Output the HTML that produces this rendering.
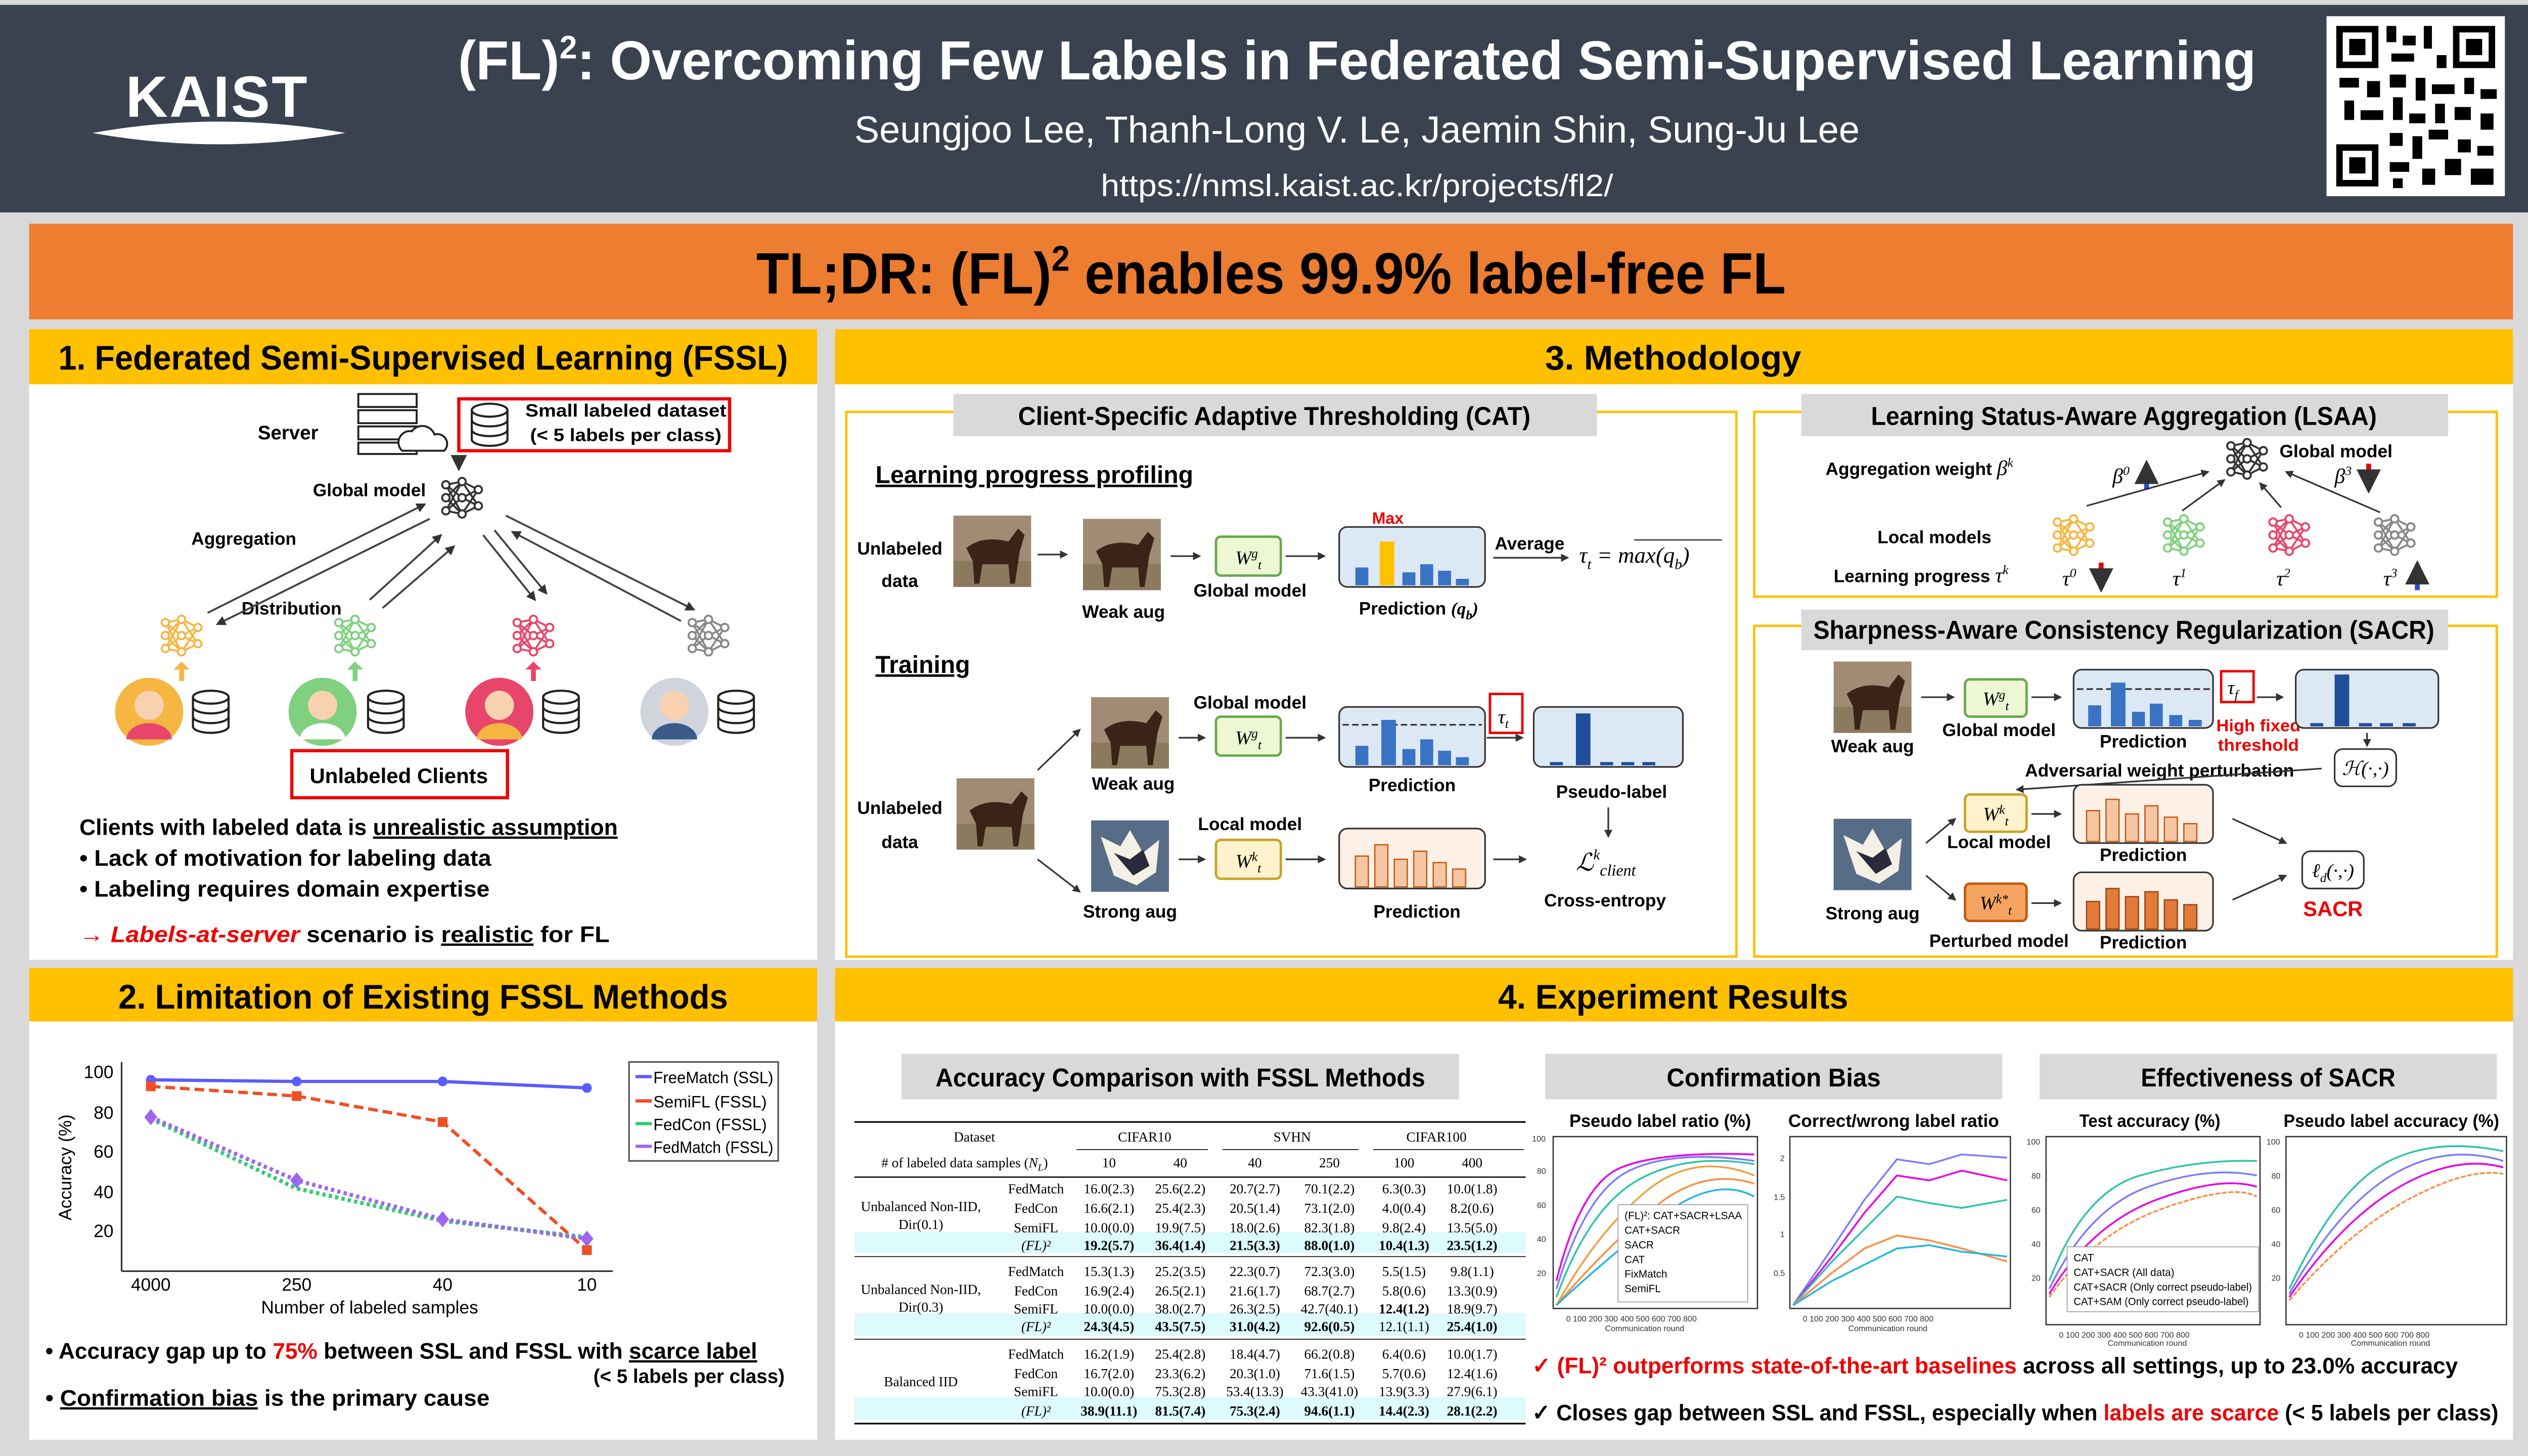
<!DOCTYPE html>
<html><head><meta charset="utf-8"><style>
html,body{margin:0;padding:0;background:#d9d9d9;}
svg{display:block}
text{font-family:"Liberation Sans",sans-serif;}
.b{font-weight:bold}
.s{font-family:"Liberation Serif",serif}
</style></head><body>
<svg width="5028" height="2880" viewBox="0 0 1568 898" preserveAspectRatio="none" xmlns="http://www.w3.org/2000/svg">
<defs>
<g id="net" fill="none" stroke-width="1.2">
<line x1="-10" y1="-8" x2="0" y2="-10"/><line x1="-10" y1="-8" x2="0" y2="0"/><line x1="-10" y1="0" x2="0" y2="-10"/><line x1="-10" y1="0" x2="0" y2="10"/><line x1="-10" y1="8" x2="0" y2="0"/><line x1="-10" y1="8" x2="0" y2="10"/><line x1="-10" y1="-8" x2="0" y2="10"/><line x1="-10" y1="8" x2="0" y2="-10"/>
<line x1="0" y1="-10" x2="10" y2="-5"/><line x1="0" y1="0" x2="10" y2="-5"/><line x1="0" y1="0" x2="10" y2="5"/><line x1="0" y1="10" x2="10" y2="5"/><line x1="0" y1="-10" x2="10" y2="5"/><line x1="0" y1="10" x2="10" y2="-5"/>
<circle cx="-10" cy="-8" r="2.3" fill="#fff"/><circle cx="-10" cy="0" r="2.3" fill="#fff"/><circle cx="-10" cy="8" r="2.3" fill="#fff"/><circle cx="0" cy="-10" r="2.3" fill="#fff"/><circle cx="0" cy="0" r="2.3" fill="#fff"/><circle cx="0" cy="10" r="2.3" fill="#fff"/><circle cx="10" cy="-5" r="2.3" fill="#fff"/><circle cx="10" cy="5" r="2.3" fill="#fff"/>
</g>
<g id="db" fill="#fff" stroke="#222" stroke-width="1.3">
<path d="M-11,-9 v18 a11,4 0 0 0 22,0 v-18"/><ellipse cx="0" cy="-9" rx="11" ry="4"/><path d="M-11,-3 a11,4 0 0 0 22,0 M-11,3 a11,4 0 0 0 22,0" fill="none"/>
</g>
<g id="horse"><rect x="0" y="0" width="48" height="44" fill="#a08c74"/><rect x="0" y="28" width="48" height="16" fill="#8b7a5e"/><path d="M8,20 q10,-8 26,-4 l6,-8 l4,4 l-3,10 l-3,20 h-3 l-1,-12 h-16 l-2,12 h-3 l-1,-14 z" fill="#3b2417"/></g>
<g id="horse2"><rect x="0" y="0" width="48" height="44" fill="#6a7686"/><rect x="0" y="0" width="48" height="44" fill="#3c5f8a" opacity="0.4"/><path d="M6,10 l12,6 l6,-10 l8,14 l10,-8 l-2,20 l-12,8 l-14,-6 z" fill="#f5f0e6"/><path d="M14,20 l10,4 l8,-6 l4,10 l-10,6 z" fill="#2a2a3a"/></g>
<marker id="ar" viewBox="0 0 6 6" refX="5" refY="3" markerWidth="5" markerHeight="5" orient="auto"><path d="M0,0 L6,3 L0,6 z" fill="#333"/></marker>
</defs>

<rect x="0" y="0" width="1568" height="898" fill="#d9d9d9"/>
<!-- header -->
<rect x="0" y="3" width="1568" height="128" fill="#3a4250"/>
<text x="134" y="72" fill="#fff" font-size="36" class="b" text-anchor="middle" letter-spacing="1">KAIST</text>
<path d="M57,82 Q135,68 213,82 Q135,96 57,82 z" fill="#fff"/>
<text x="837" y="49" fill="#fff" font-size="34" text-anchor="middle" class="b" textLength="1109" lengthAdjust="spacingAndGlyphs">(FL)<tspan font-size="20" dy="-13">2</tspan><tspan dy="13">: Overcoming Few Labels in Federated Semi-Supervised Learning</tspan></text>
<text x="837" y="88" fill="#fff" font-size="23" text-anchor="middle" textLength="620" lengthAdjust="spacingAndGlyphs">Seungjoo Lee, Thanh-Long V. Le, Jaemin Shin, Sung-Ju Lee</text>
<text x="837" y="121" fill="#fff" font-size="19" text-anchor="middle" textLength="316" lengthAdjust="spacingAndGlyphs">https://nmsl.kaist.ac.kr/projects/fl2/</text>
<rect x="1435" y="10" width="110" height="111" fill="#fff"/>
<g fill="#000">
<rect x="1441" y="16" width="26" height="26"/><rect x="1445" y="20" width="18" height="18" fill="#fff"/><rect x="1449" y="24" width="10" height="10"/>
<rect x="1513" y="16" width="26" height="26"/><rect x="1517" y="20" width="18" height="18" fill="#fff"/><rect x="1521" y="24" width="10" height="10"/>
<rect x="1441" y="89" width="26" height="26"/><rect x="1445" y="93" width="18" height="18" fill="#fff"/><rect x="1449" y="97" width="10" height="10"/>
<rect x="1472" y="16" width="6" height="10"/><rect x="1482" y="22" width="8" height="6"/><rect x="1495" y="16" width="5" height="14"/><rect x="1475" y="33" width="14" height="5"/><rect x="1503" y="34" width="6" height="8"/>
<rect x="1443" y="48" width="12" height="6"/><rect x="1460" y="50" width="8" height="10"/><rect x="1474" y="46" width="10" height="8"/><rect x="1490" y="48" width="6" height="14"/><rect x="1500" y="52" width="14" height="6"/><rect x="1520" y="48" width="6" height="10"/><rect x="1530" y="55" width="10" height="6"/>
<rect x="1446" y="62" width="6" height="12"/><rect x="1456" y="68" width="14" height="6"/><rect x="1476" y="60" width="6" height="14"/><rect x="1486" y="70" width="10" height="6"/><rect x="1502" y="64" width="6" height="12"/><rect x="1514" y="66" width="10" height="8"/><rect x="1530" y="70" width="8" height="10"/>
<rect x="1474" y="82" width="8" height="8"/><rect x="1488" y="84" width="6" height="14"/><rect x="1498" y="80" width="12" height="6"/><rect x="1516" y="86" width="8" height="8"/><rect x="1528" y="90" width="10" height="6"/><rect x="1474" y="100" width="12" height="6"/><rect x="1494" y="104" width="8" height="10"/><rect x="1508" y="98" width="10" height="10"/><rect x="1524" y="104" width="14" height="10"/><rect x="1476" y="110" width="6" height="6"/>
</g>
<!-- TLDR -->
<rect x="18" y="138" width="1532" height="59" fill="#ed7d31"/>
<text x="784" y="181" font-size="36" text-anchor="middle" class="b" textLength="635" lengthAdjust="spacingAndGlyphs">TL;DR: (FL)<tspan font-size="22" dy="-14">2</tspan><tspan dy="14"> enables 99.9% label-free FL</tspan></text>

<!-- Panels -->
<rect x="18" y="203" width="486" height="389" fill="#fff"/>
<rect x="18" y="203" width="486" height="34" fill="#ffc000"/>
<text x="261" y="228" font-size="21" class="b" text-anchor="middle" textLength="450" lengthAdjust="spacingAndGlyphs">1. Federated Semi-Supervised Learning (FSSL)</text>
<rect x="515" y="203" width="1035" height="389" fill="#fff"/>
<rect x="515" y="203" width="1035" height="34" fill="#ffc000"/>
<text x="1032" y="228" font-size="21" class="b" text-anchor="middle" textLength="158" lengthAdjust="spacingAndGlyphs">3. Methodology</text>
<rect x="18" y="597" width="486" height="291" fill="#fff"/>
<rect x="18" y="597" width="486" height="33" fill="#ffc000"/>
<text x="261" y="622" font-size="21" class="b" text-anchor="middle" textLength="376" lengthAdjust="spacingAndGlyphs">2. Limitation of Existing FSSL Methods</text>
<rect x="515" y="597" width="1035" height="291" fill="#fff"/>
<rect x="515" y="597" width="1035" height="33" fill="#ffc000"/>
<text x="1032" y="622" font-size="21" class="b" text-anchor="middle" textLength="216" lengthAdjust="spacingAndGlyphs">4. Experiment Results</text>

<!-- Section 1 -->
<text x="159" y="271" font-size="12" class="b">Server</text>
<g stroke="#222" stroke-width="1.2" fill="#fff"><rect x="221" y="243" width="36" height="8"/><rect x="221" y="253" width="36" height="8"/><rect x="221" y="263" width="36" height="8"/><rect x="221" y="273" width="36" height="7"/><path d="M248,278 a7,7 0 0 1 6,-12 a8,8 0 0 1 14,2 a6,6 0 0 1 6,10 z"/></g>
<rect x="283" y="246" width="167" height="32" fill="none" stroke="#e00" stroke-width="2"/>
<use href="#db" x="302" y="262"/>
<text x="386" y="257" font-size="11" class="b" text-anchor="middle" textLength="124" lengthAdjust="spacingAndGlyphs">Small labeled dataset</text>
<text x="386" y="272" font-size="11" class="b" text-anchor="middle" textLength="118" lengthAdjust="spacingAndGlyphs">(&lt; 5 labels per class)</text>
<path d="M283,281 v8" stroke="#333" stroke-width="2" marker-end="url(#ar)"/>
<text x="193" y="306" font-size="11" class="b">Global model</text>
<use href="#net" x="285" y="307" stroke="#333"/>
<text x="118" y="336" font-size="11" class="b">Aggregation</text>
<text x="149" y="379" font-size="11" class="b">Distribution</text>
<g stroke="#444" stroke-width="1.2" fill="none" marker-end="url(#ar)">
<path d="M128,378 L262,311"/><path d="M265,320 L134,385"/>
<path d="M228,370 L272,330"/><path d="M236,375 L280,337"/>
<path d="M298,330 L330,370"/><path d="M305,327 L337,366"/>
<path d="M312,318 L428,376"/><path d="M420,383 L316,328"/>
</g>
<use href="#net" x="112" y="392" stroke="#f5b642"/>
<use href="#net" x="219" y="392" stroke="#7fd07f"/>
<use href="#net" x="329" y="392" stroke="#e8456a"/>
<use href="#net" x="437" y="392" stroke="#888"/>
<path d="M112,420 v-9" stroke="#f5b642" stroke-width="3"/><path d="M107,413 l5,-5 l5,5 z" fill="#f5b642"/>
<path d="M219,420 v-9" stroke="#7fd07f" stroke-width="3"/><path d="M214,413 l5,-5 l5,5 z" fill="#7fd07f"/>
<path d="M329,420 v-9" stroke="#e8456a" stroke-width="3"/><path d="M324,413 l5,-5 l5,5 z" fill="#e8456a"/>
<g>
<circle cx="92" cy="439" r="21" fill="#f5b642"/><circle cx="92" cy="435" r="9" fill="#f8d2b0"/><path d="M78,456 a14,10 0 0 1 28,0" fill="#e8456a"/>
<circle cx="199" cy="439" r="21" fill="#7fd07f"/><circle cx="199" cy="435" r="9" fill="#f8d2b0"/><path d="M185,456 a14,10 0 0 1 28,0" fill="#fff"/>
<circle cx="308" cy="439" r="21" fill="#e8456a"/><circle cx="308" cy="435" r="9" fill="#f8d2b0"/><path d="M294,456 a14,10 0 0 1 28,0" fill="#f5b642"/>
<circle cx="416" cy="439" r="21" fill="#d0d4dc"/><circle cx="416" cy="435" r="9" fill="#f8d2b0"/><path d="M402,456 a14,10 0 0 1 28,0" fill="#3a5a8a"/>
</g>
<use href="#db" x="130" y="439"/><use href="#db" x="238" y="439"/><use href="#db" x="346" y="439"/><use href="#db" x="454" y="439"/>
<rect x="180" y="463" width="133" height="29" fill="none" stroke="#e00" stroke-width="2"/>
<text x="246" y="483" font-size="13" class="b" text-anchor="middle" textLength="110" lengthAdjust="spacingAndGlyphs">Unlabeled Clients</text>
<text x="49" y="515" font-size="14" class="b" textLength="332" lengthAdjust="spacingAndGlyphs">Clients with labeled data is <tspan text-decoration="underline">unrealistic assumption</tspan></text>
<text x="49" y="534" font-size="14" class="b" textLength="254" lengthAdjust="spacingAndGlyphs">•   Lack of motivation for labeling data</text>
<text x="49" y="553" font-size="14" class="b" textLength="253" lengthAdjust="spacingAndGlyphs">•   Labeling requires domain expertise</text>
<text x="49" y="581" font-size="14" class="b" textLength="327" lengthAdjust="spacingAndGlyphs"><tspan fill="#e00">→ </tspan><tspan fill="#e00" font-style="italic">Labels-at-server</tspan> scenario is <tspan text-decoration="underline">realistic</tspan> for FL</text>

<!-- Section 2 chart -->
<g font-size="11">
<line x1="75" y1="655" x2="75" y2="784" stroke="#333"/><line x1="75" y1="784" x2="378" y2="784" stroke="#333"/>
<text x="70" y="665" text-anchor="end">100</text><text x="70" y="690" text-anchor="end">80</text><text x="70" y="714" text-anchor="end">60</text><text x="70" y="739" text-anchor="end">40</text><text x="70" y="763" text-anchor="end">20</text>
<text x="93" y="796" text-anchor="middle">4000</text><text x="183" y="796" text-anchor="middle">250</text><text x="273" y="796" text-anchor="middle">40</text><text x="362" y="796" text-anchor="middle">10</text>
<text x="228" y="810" text-anchor="middle">Number of labeled samples</text>
<text transform="translate(44,720) rotate(-90)" text-anchor="middle">Accuracy (%)</text>
</g>
<polyline points="93,666 183,667 273,667 362,671" fill="none" stroke="#5b5bff" stroke-width="2"/>
<g fill="#5b5bff"><circle cx="93" cy="666" r="3"/><circle cx="183" cy="667" r="3"/><circle cx="273" cy="667" r="3"/><circle cx="362" cy="671" r="3"/></g>
<polyline points="93,670 183,676 273,692 362,771" fill="none" stroke="#f04e23" stroke-width="2" stroke-dasharray="6,3"/>
<g fill="#f04e23"><rect x="90" y="667" width="6" height="6"/><rect x="180" y="673" width="6" height="6"/><rect x="270" y="689" width="6" height="6"/><rect x="359" y="768" width="6" height="6"/></g>
<polyline points="93,690 183,733 273,753 362,763" fill="none" stroke="#2ecc71" stroke-width="2.5" stroke-dasharray="2,2"/>
<polyline points="93,689 183,728 273,752 362,764" fill="none" stroke="#a064f0" stroke-width="2.5" stroke-dasharray="2,2"/>
<g fill="#a064f0"><path d="M93,684 l4,5 l-4,5 l-4,-5z"/><path d="M183,723 l4,5 l-4,5 l-4,-5z"/><path d="M273,747 l4,5 l-4,5 l-4,-5z"/><path d="M362,759 l4,5 l-4,5 l-4,-5z"/></g>
<rect x="388" y="655" width="92" height="61" fill="#fff" stroke="#555"/>
<g font-size="10"><line x1="392" y1="664" x2="402" y2="664" stroke="#5b5bff" stroke-width="2"/><text x="403" y="668" textLength="74" lengthAdjust="spacingAndGlyphs">FreeMatch (SSL)</text>
<line x1="392" y1="679" x2="402" y2="679" stroke="#f04e23" stroke-width="2"/><text x="403" y="683" textLength="70" lengthAdjust="spacingAndGlyphs">SemiFL    (FSSL)</text>
<line x1="392" y1="693" x2="402" y2="693" stroke="#2ecc71" stroke-width="2"/><text x="403" y="697" textLength="70" lengthAdjust="spacingAndGlyphs">FedCon    (FSSL)</text>
<line x1="392" y1="707" x2="402" y2="707" stroke="#a064f0" stroke-width="2"/><text x="403" y="711" textLength="74" lengthAdjust="spacingAndGlyphs">FedMatch (FSSL)</text></g>
<text x="28" y="838" font-size="14" class="b" textLength="439" lengthAdjust="spacingAndGlyphs">•   Accuracy gap up to <tspan fill="#e00">75%</tspan> between SSL and FSSL with <tspan text-decoration="underline">scarce label</tspan></text>
<text x="484" y="853" font-size="12" class="b" text-anchor="end" textLength="118" lengthAdjust="spacingAndGlyphs">(&lt; 5 labels per class)</text>
<text x="28" y="867" font-size="14" class="b" textLength="274" lengthAdjust="spacingAndGlyphs">•   <tspan text-decoration="underline">Confirmation bias</tspan> is the primary cause</text>

<!-- Section 3: CAT -->
<rect x="522" y="254" width="549" height="336" fill="none" stroke="#ffc000" stroke-width="1.5"/>
<rect x="588" y="243" width="397" height="26" fill="#d9d9d9"/>
<text x="786" y="262" font-size="16" class="b" text-anchor="middle" textLength="316" lengthAdjust="spacingAndGlyphs">Client-Specific Adaptive Thresholding (CAT)</text>
<text x="540" y="298" font-size="15" class="b" text-decoration="underline" textLength="196" lengthAdjust="spacingAndGlyphs">Learning progress profiling</text>
<text x="555" y="342" font-size="11" class="b" text-anchor="middle">Unlabeled</text><text x="555" y="362" font-size="11" class="b" text-anchor="middle">data</text>
<use href="#horse" x="588" y="318"/>
<path d="M640,342 h18" stroke="#333" marker-end="url(#ar)"/>
<use href="#horse" x="668" y="320"/>
<text x="693" y="381" font-size="11" class="b" text-anchor="middle">Weak aug</text>
<path d="M722,343 h18" stroke="#333" marker-end="url(#ar)"/>
<rect x="750" y="331" width="40" height="24" rx="3" fill="#eef7d4" stroke="#6aa84f" stroke-width="1.5"/>
<text x="770" y="348" font-size="12" class="s" font-style="italic" text-anchor="middle">W<tspan font-size="8" dy="-4">g</tspan><tspan font-size="8" dy="7">t</tspan></text>
<text x="771" y="368" font-size="11" class="b" text-anchor="middle">Global model</text>
<path d="M793,343 h24" stroke="#333" marker-end="url(#ar)"/>
<rect x="826" y="325" width="90" height="37" rx="5" fill="#dde8f5" stroke="#333"/>
<g fill="#3a72c4"><rect x="836" y="350" width="8" height="11"/><rect x="865" y="353" width="8" height="8"/><rect x="876" y="348" width="8" height="13"/><rect x="887" y="352" width="8" height="9"/><rect x="898" y="357" width="8" height="4"/></g>
<rect x="851" y="334" width="9" height="27" fill="#ffc000"/>
<text x="856" y="323" font-size="10" class="b" fill="#e00" text-anchor="middle">Max</text>
<text x="875" y="379" font-size="11" class="b" text-anchor="middle">Prediction <tspan class="s" font-style="italic">(q<tspan font-size="8" dy="3">b</tspan><tspan dy="-3">)</tspan></tspan></text>
<text x="922" y="339" font-size="11" class="b">Average</text>
<path d="M921,344 h46" stroke="#333" marker-end="url(#ar)"/>
<text x="974" y="347" font-size="14" class="s" font-style="italic">τ<tspan font-size="9" dy="4">t</tspan><tspan dy="-4"> = max(q</tspan><tspan font-size="9" dy="4">b</tspan><tspan dy="-4">)</tspan></text>
<line x1="1008" y1="333" x2="1062" y2="333" stroke="#333" stroke-width="0.8"/>
<text x="540" y="415" font-size="15" class="b" text-decoration="underline">Training</text>
<text x="555" y="502" font-size="11" class="b" text-anchor="middle">Unlabeled</text><text x="555" y="523" font-size="11" class="b" text-anchor="middle">data</text>
<use href="#horse" x="590" y="480"/>
<path d="M640,475 L666,450" stroke="#333" marker-end="url(#ar)"/>
<path d="M640,530 L666,550" stroke="#333" marker-end="url(#ar)"/>
<use href="#horse" x="673" y="430"/>
<text x="699" y="487" font-size="11" class="b" text-anchor="middle">Weak aug</text>
<use href="#horse2" x="673" y="506"/>
<text x="697" y="566" font-size="11" class="b" text-anchor="middle">Strong aug</text>
<text x="771" y="437" font-size="11" class="b" text-anchor="middle">Global model</text>
<path d="M727,455 h16" stroke="#333" marker-end="url(#ar)"/>
<rect x="750" y="442" width="40" height="24" rx="3" fill="#eef7d4" stroke="#6aa84f" stroke-width="1.5"/>
<text x="770" y="459" font-size="12" class="s" font-style="italic" text-anchor="middle">W<tspan font-size="8" dy="-4">g</tspan><tspan font-size="8" dy="7">t</tspan></text>
<path d="M793,455 h24" stroke="#333" marker-end="url(#ar)"/>
<rect x="826" y="436" width="90" height="37" rx="5" fill="#dde8f5" stroke="#333"/>
<line x1="828" y1="447" x2="914" y2="447" stroke="#333" stroke-dasharray="4,2"/>
<g fill="#3a72c4"><rect x="836" y="460" width="8" height="12"/><rect x="852" y="444" width="9" height="28"/><rect x="865" y="462" width="8" height="10"/><rect x="876" y="456" width="8" height="16"/><rect x="887" y="463" width="8" height="9"/><rect x="898" y="467" width="8" height="5"/></g>
<text x="871" y="488" font-size="11" class="b" text-anchor="middle">Prediction</text>
<rect x="919" y="428" width="20" height="24" fill="none" stroke="#e00" stroke-width="1.5"/>
<text x="924" y="446" font-size="12" class="s" font-style="italic">τ<tspan font-size="8" dy="3">t</tspan></text>
<path d="M917,455 h22" stroke="#333" marker-end="url(#ar)"/>
<rect x="946" y="436" width="92" height="37" rx="5" fill="#dde8f5" stroke="#333"/>
<g fill="#1f4e9a"><rect x="972" y="440" width="9" height="32"/><rect x="956" y="470" width="8" height="2"/><rect x="987" y="470" width="8" height="2"/><rect x="1000" y="470" width="8" height="2"/><rect x="1013" y="470" width="8" height="2"/></g>
<text x="994" y="492" font-size="11" class="b" text-anchor="middle">Pseudo-label</text>
<text x="771" y="512" font-size="11" class="b" text-anchor="middle">Local model</text>
<path d="M727,530 h16" stroke="#333" marker-end="url(#ar)"/>
<rect x="750" y="518" width="40" height="24" rx="3" fill="#fff2cc" stroke="#c9a227" stroke-width="1.5"/>
<text x="770" y="535" font-size="12" class="s" font-style="italic" text-anchor="middle">W<tspan font-size="8" dy="-4">k</tspan><tspan font-size="8" dy="7">t</tspan></text>
<path d="M793,530 h24" stroke="#333" marker-end="url(#ar)"/>
<rect x="826" y="511" width="90" height="37" rx="5" fill="#fdf0e6" stroke="#333"/>
<g fill="#f4c6a4" stroke="#c55a11" stroke-width="0.8"><rect x="836" y="528" width="8" height="19"/><rect x="848" y="521" width="8" height="26"/><rect x="860" y="530" width="8" height="17"/><rect x="872" y="525" width="8" height="22"/><rect x="884" y="532" width="8" height="15"/><rect x="896" y="536" width="8" height="11"/></g>
<text x="874" y="566" font-size="11" class="b" text-anchor="middle">Prediction</text>
<path d="M921,530 h20" stroke="#333" marker-end="url(#ar)"/>
<path d="M992,498 v18" stroke="#333" marker-end="url(#ar)"/>
<text x="972" y="537" font-size="15" class="s" font-style="italic">ℒ<tspan font-size="9" dy="-7">k</tspan><tspan font-size="10" dy="10">client</tspan></text>
<text x="990" y="559" font-size="11" class="b" text-anchor="middle">Cross-entropy</text>

<!-- LSAA -->
<rect x="1082" y="254" width="458" height="114" fill="none" stroke="#ffc000" stroke-width="1.5"/>
<rect x="1111" y="243" width="399" height="26" fill="#d9d9d9"/>
<text x="1310" y="262" font-size="16" class="b" text-anchor="middle" textLength="312" lengthAdjust="spacingAndGlyphs">Learning Status-Aware Aggregation (LSAA)</text>
<text x="1126" y="293" font-size="11" class="b">Aggregation weight <tspan class="s" font-style="italic" font-weight="normal" font-size="13">β<tspan font-size="8" dy="-5">k</tspan></tspan></text>
<use href="#net" x="1386" y="283" stroke="#333"/>
<text x="1406" y="282" font-size="11" class="b">Global model</text>
<text x="1303" y="298" font-size="13" class="s" font-style="italic">β<tspan font-size="8" dy="-5">0</tspan></text>
<path d="M1324,302 v-16" stroke="#1f4ed8" stroke-width="3" marker-end="url(#ar)"/>
<text x="1440" y="298" font-size="13" class="s" font-style="italic">β<tspan font-size="8" dy="-5">3</tspan></text>
<path d="M1461,286 v16" stroke="#e00" stroke-width="3" marker-end="url(#ar)"/>
<g stroke="#333" fill="none" marker-end="url(#ar)"><path d="M1287,312 L1362,291"/><path d="M1346,315 L1372,296"/><path d="M1407,313 L1394,298"/><path d="M1468,316 L1410,291"/></g>
<text x="1158" y="335" font-size="11" class="b">Local models</text>
<text x="1131" y="359" font-size="11" class="b">Learning progress <tspan class="s" font-style="italic" font-weight="normal" font-size="13">τ<tspan font-size="8" dy="-5">k</tspan></tspan></text>
<use href="#net" x="1279" y="330" stroke="#f5b642"/>
<use href="#net" x="1347" y="330" stroke="#7fd07f"/>
<use href="#net" x="1412" y="330" stroke="#e8456a"/>
<use href="#net" x="1477" y="330" stroke="#888"/>
<text x="1272" y="361" font-size="13" class="s" font-style="italic">τ<tspan font-size="8" dy="-5">0</tspan></text>
<path d="M1296,347 v16" stroke="#e00" stroke-width="3" marker-end="url(#ar)"/>
<text x="1340" y="361" font-size="13" class="s" font-style="italic">τ<tspan font-size="8" dy="-5">1</tspan></text>
<text x="1404" y="361" font-size="13" class="s" font-style="italic">τ<tspan font-size="8" dy="-5">2</tspan></text>
<text x="1470" y="361" font-size="13" class="s" font-style="italic">τ<tspan font-size="8" dy="-5">3</tspan></text>
<path d="M1491,364 v-16" stroke="#1f4ed8" stroke-width="3" marker-end="url(#ar)"/>

<!-- SACR -->
<rect x="1082" y="386" width="458" height="204" fill="none" stroke="#ffc000" stroke-width="1.5"/>
<rect x="1111" y="376" width="399" height="25" fill="#d9d9d9"/>
<text x="1310" y="394" font-size="16" class="b" text-anchor="middle" textLength="383" lengthAdjust="spacingAndGlyphs">Sharpness-Aware Consistency Regularization (SACR)</text>
<use href="#horse" x="1131" y="408"/>
<text x="1155" y="464" font-size="11" class="b" text-anchor="middle">Weak aug</text>
<use href="#horse2" x="1131" y="505"/>
<text x="1155" y="567" font-size="11" class="b" text-anchor="middle">Strong aug</text>
<path d="M1185,430 h20" stroke="#333" marker-end="url(#ar)"/>
<rect x="1212" y="419" width="38" height="23" rx="3" fill="#eef7d4" stroke="#6aa84f" stroke-width="1.5"/>
<text x="1231" y="435" font-size="12" class="s" font-style="italic" text-anchor="middle">W<tspan font-size="8" dy="-4">g</tspan><tspan font-size="8" dy="7">t</tspan></text>
<text x="1233" y="454" font-size="11" class="b" text-anchor="middle" textLength="70" lengthAdjust="spacingAndGlyphs">Global model</text>
<path d="M1253,430 h18" stroke="#333" marker-end="url(#ar)"/>
<rect x="1279" y="413" width="86" height="36" rx="5" fill="#dde8f5" stroke="#333"/>
<line x1="1281" y1="425" x2="1363" y2="425" stroke="#333" stroke-dasharray="4,2"/>
<g fill="#3a72c4"><rect x="1288" y="435" width="8" height="13"/><rect x="1302" y="421" width="9" height="27"/><rect x="1315" y="439" width="8" height="9"/><rect x="1326" y="434" width="8" height="14"/><rect x="1338" y="441" width="8" height="7"/><rect x="1350" y="444" width="8" height="4"/></g>
<text x="1322" y="461" font-size="11" class="b" text-anchor="middle">Prediction</text>
<rect x="1370" y="414" width="20" height="19" fill="none" stroke="#e00" stroke-width="1.5"/>
<text x="1374" y="428" font-size="12" class="s" font-style="italic">τ<tspan font-size="8" dy="3">f</tspan></text>
<text x="1393" y="451" font-size="10.5" class="b" fill="#e00" text-anchor="middle" textLength="52" lengthAdjust="spacingAndGlyphs">High fixed</text>
<text x="1393" y="463" font-size="10.5" class="b" fill="#e00" text-anchor="middle" textLength="50" lengthAdjust="spacingAndGlyphs">threshold</text>
<path d="M1392,430 h16" stroke="#333" marker-end="url(#ar)"/>
<rect x="1416" y="413" width="88" height="36" rx="5" fill="#dde8f5" stroke="#333"/>
<g fill="#1f4e9a"><rect x="1440" y="416" width="9" height="32"/><rect x="1425" y="446" width="8" height="2"/><rect x="1455" y="446" width="8" height="2"/><rect x="1468" y="446" width="8" height="2"/><rect x="1482" y="446" width="8" height="2"/></g>
<path d="M1460,452 v8" stroke="#333" marker-end="url(#ar)"/>
<rect x="1440" y="462" width="38" height="23" rx="5" fill="#fff" stroke="#333"/>
<text x="1459" y="478" font-size="12" class="s" font-style="italic" text-anchor="middle">ℋ(·,·)</text>
<text x="1332" y="479" font-size="11" class="b" text-anchor="middle" textLength="166" lengthAdjust="spacingAndGlyphs">Adversarial weight perturbation</text>
<path d="M1432,474 L1244,487" stroke="#333" marker-end="url(#ar)"/>
<path d="M1188,520 L1206,505" stroke="#333" marker-end="url(#ar)"/>
<path d="M1188,540 L1206,555" stroke="#333" marker-end="url(#ar)"/>
<rect x="1212" y="490" width="38" height="23" rx="3" fill="#fff2cc" stroke="#c9a227" stroke-width="1.5"/>
<text x="1231" y="506" font-size="12" class="s" font-style="italic" text-anchor="middle">W<tspan font-size="8" dy="-4">k</tspan><tspan font-size="8" dy="7">t</tspan></text>
<text x="1233" y="523" font-size="11" class="b" text-anchor="middle" textLength="64" lengthAdjust="spacingAndGlyphs">Local model</text>
<rect x="1212" y="545" width="38" height="23" rx="3" fill="#f4a460" stroke="#c55a11" stroke-width="1.5"/>
<text x="1231" y="561" font-size="12" class="s" font-style="italic" text-anchor="middle">W<tspan font-size="8" dy="-4">k*</tspan><tspan font-size="8" dy="7">t</tspan></text>
<text x="1233" y="584" font-size="11" class="b" text-anchor="middle" textLength="86" lengthAdjust="spacingAndGlyphs">Perturbed model</text>
<path d="M1253,502 h18" stroke="#333" marker-end="url(#ar)"/>
<path d="M1253,557 h18" stroke="#333" marker-end="url(#ar)"/>
<rect x="1279" y="484" width="86" height="36" rx="5" fill="#fdf0e6" stroke="#333"/>
<g fill="#f4c6a4" stroke="#c55a11" stroke-width="0.8"><rect x="1287" y="500" width="8" height="19"/><rect x="1299" y="493" width="8" height="26"/><rect x="1311" y="502" width="8" height="17"/><rect x="1323" y="497" width="8" height="22"/><rect x="1335" y="504" width="8" height="15"/><rect x="1347" y="508" width="8" height="11"/></g>
<text x="1322" y="531" font-size="11" class="b" text-anchor="middle">Prediction</text>
<rect x="1279" y="538" width="86" height="36" rx="5" fill="#fdf0e6" stroke="#333"/>
<g fill="#e07b39" stroke="#a0450f" stroke-width="0.8"><rect x="1287" y="556" width="8" height="17"/><rect x="1299" y="548" width="8" height="25"/><rect x="1311" y="553" width="8" height="20"/><rect x="1323" y="550" width="8" height="23"/><rect x="1335" y="555" width="8" height="18"/><rect x="1347" y="558" width="8" height="15"/></g>
<text x="1322" y="585" font-size="11" class="b" text-anchor="middle">Prediction</text>
<path d="M1377,505 L1410,520" stroke="#333" marker-end="url(#ar)"/>
<path d="M1377,555 L1410,540" stroke="#333" marker-end="url(#ar)"/>
<rect x="1420" y="525" width="38" height="23" rx="5" fill="#fff" stroke="#333"/>
<text x="1439" y="541" font-size="12" class="s" font-style="italic" text-anchor="middle">ℓ<tspan font-size="8" dy="3">d</tspan><tspan dy="-3">(·,·)</tspan></text>
<text x="1439" y="565" font-size="13" class="b" fill="#e00" text-anchor="middle">SACR</text>

<!-- Section 4 -->
<rect x="556" y="650" width="344" height="28" fill="#d9d9d9"/>
<text x="728" y="670" font-size="16" class="b" text-anchor="middle" textLength="302" lengthAdjust="spacingAndGlyphs">Accuracy Comparison with FSSL Methods</text>
<rect x="953" y="650" width="282" height="28" fill="#d9d9d9"/>
<text x="1094" y="670" font-size="16" class="b" text-anchor="middle" textLength="132" lengthAdjust="spacingAndGlyphs">Confirmation Bias</text>
<rect x="1258" y="650" width="282" height="28" fill="#d9d9d9"/>
<text x="1399" y="670" font-size="16" class="b" text-anchor="middle" textLength="157" lengthAdjust="spacingAndGlyphs">Effectiveness of SACR</text>

<!-- table -->
<g font-size="8.5" style="font-family:'Liberation Serif',serif">
<line x1="527" y1="692" x2="941" y2="692" stroke="#000" stroke-width="1"/>
<text x="601" y="704" text-anchor="middle" style="font-family:'Liberation Serif',serif">Dataset</text>
<text x="706" y="704" text-anchor="middle" style="font-family:'Liberation Serif',serif">CIFAR10</text>
<text x="797" y="704" text-anchor="middle" style="font-family:'Liberation Serif',serif">SVHN</text>
<text x="886" y="704" text-anchor="middle" style="font-family:'Liberation Serif',serif">CIFAR100</text>
<line x1="664" y1="709" x2="745" y2="709" stroke="#000" stroke-width="0.5"/><line x1="754" y1="709" x2="838" y2="709" stroke="#000" stroke-width="0.5"/><line x1="847" y1="709" x2="940" y2="709" stroke="#000" stroke-width="0.5"/>
<text x="595" y="720" text-anchor="middle" style="font-family:'Liberation Serif',serif"># of labeled data samples (<tspan font-style="italic">N<tspan font-size="6" dy="2">L</tspan></tspan><tspan dy="-2">)</tspan></text>
<text x="684" y="720" text-anchor="middle" style="font-family:'Liberation Serif',serif">10</text><text x="728" y="720" text-anchor="middle" style="font-family:'Liberation Serif',serif">40</text><text x="774" y="720" text-anchor="middle" style="font-family:'Liberation Serif',serif">40</text><text x="820" y="720" text-anchor="middle" style="font-family:'Liberation Serif',serif">250</text><text x="866" y="720" text-anchor="middle" style="font-family:'Liberation Serif',serif">100</text><text x="908" y="720" text-anchor="middle" style="font-family:'Liberation Serif',serif">400</text>
<line x1="527" y1="726" x2="941" y2="726" stroke="#000" stroke-width="0.8"/>
<rect x="527" y="760" width="414" height="13" fill="#ddfafc"/>
<rect x="527" y="810" width="414" height="14" fill="#ddfafc"/>
<rect x="527" y="862" width="414" height="14" fill="#ddfafc"/>
<line x1="527" y1="775" x2="941" y2="775" stroke="#000" stroke-width="0.5"/>
<line x1="527" y1="826" x2="941" y2="826" stroke="#000" stroke-width="0.5"/>
<line x1="527" y1="878" x2="941" y2="878" stroke="#000" stroke-width="1"/>
</g>
<g font-size="8.5">
<text x="568" y="747" text-anchor="middle" style="font-family:'Liberation Serif',serif">Unbalanced Non-IID,</text><text x="568" y="758" text-anchor="middle" style="font-family:'Liberation Serif',serif">Dir(0.1)</text>
<text x="568" y="798" text-anchor="middle" style="font-family:'Liberation Serif',serif">Unbalanced Non-IID,</text><text x="568" y="809" text-anchor="middle" style="font-family:'Liberation Serif',serif">Dir(0.3)</text>
<text x="568" y="855" text-anchor="middle" style="font-family:'Liberation Serif',serif">Balanced IID</text>
</g>
<g font-size="8.5" text-anchor="middle">
<text x="639" y="736" style="font-family:'Liberation Serif',serif">FedMatch</text><text x="684" y="736" style="font-family:'Liberation Serif',serif">16.0(2.3)</text><text x="728" y="736" style="font-family:'Liberation Serif',serif">25.6(2.2)</text><text x="774" y="736" style="font-family:'Liberation Serif',serif">20.7(2.7)</text><text x="820" y="736" style="font-family:'Liberation Serif',serif">70.1(2.2)</text><text x="866" y="736" style="font-family:'Liberation Serif',serif">6.3(0.3)</text><text x="908" y="736" style="font-family:'Liberation Serif',serif">10.0(1.8)</text>
<text x="639" y="748" style="font-family:'Liberation Serif',serif">FedCon</text><text x="684" y="748" style="font-family:'Liberation Serif',serif">16.6(2.1)</text><text x="728" y="748" style="font-family:'Liberation Serif',serif">25.4(2.3)</text><text x="774" y="748" style="font-family:'Liberation Serif',serif">20.5(1.4)</text><text x="820" y="748" style="font-family:'Liberation Serif',serif">73.1(2.0)</text><text x="866" y="748" style="font-family:'Liberation Serif',serif">4.0(0.4)</text><text x="908" y="748" style="font-family:'Liberation Serif',serif">8.2(0.6)</text>
<text x="639" y="760" style="font-family:'Liberation Serif',serif">SemiFL</text><text x="684" y="760" style="font-family:'Liberation Serif',serif">10.0(0.0)</text><text x="728" y="760" style="font-family:'Liberation Serif',serif">19.9(7.5)</text><text x="774" y="760" style="font-family:'Liberation Serif',serif">18.0(2.6)</text><text x="820" y="760" style="font-family:'Liberation Serif',serif">82.3(1.8)</text><text x="866" y="760" style="font-family:'Liberation Serif',serif">9.8(2.4)</text><text x="908" y="760" style="font-family:'Liberation Serif',serif">13.5(5.0)</text>
<g font-weight="bold"><text x="639" y="771" font-style="italic" font-weight="normal" style="font-family:'Liberation Serif',serif">(FL)²</text><text x="684" y="771" style="font-family:'Liberation Serif',serif">19.2(5.7)</text><text x="728" y="771" style="font-family:'Liberation Serif',serif">36.4(1.4)</text><text x="774" y="771" style="font-family:'Liberation Serif',serif">21.5(3.3)</text><text x="820" y="771" style="font-family:'Liberation Serif',serif">88.0(1.0)</text><text x="866" y="771" style="font-family:'Liberation Serif',serif">10.4(1.3)</text><text x="908" y="771" style="font-family:'Liberation Serif',serif">23.5(1.2)</text></g>
<text x="639" y="787" style="font-family:'Liberation Serif',serif">FedMatch</text><text x="684" y="787" style="font-family:'Liberation Serif',serif">15.3(1.3)</text><text x="728" y="787" style="font-family:'Liberation Serif',serif">25.2(3.5)</text><text x="774" y="787" style="font-family:'Liberation Serif',serif">22.3(0.7)</text><text x="820" y="787" style="font-family:'Liberation Serif',serif">72.3(3.0)</text><text x="866" y="787" style="font-family:'Liberation Serif',serif">5.5(1.5)</text><text x="908" y="787" style="font-family:'Liberation Serif',serif">9.8(1.1)</text>
<text x="639" y="799" style="font-family:'Liberation Serif',serif">FedCon</text><text x="684" y="799" style="font-family:'Liberation Serif',serif">16.9(2.4)</text><text x="728" y="799" style="font-family:'Liberation Serif',serif">26.5(2.1)</text><text x="774" y="799" style="font-family:'Liberation Serif',serif">21.6(1.7)</text><text x="820" y="799" style="font-family:'Liberation Serif',serif">68.7(2.7)</text><text x="866" y="799" style="font-family:'Liberation Serif',serif">5.8(0.6)</text><text x="908" y="799" style="font-family:'Liberation Serif',serif">13.3(0.9)</text>
<text x="639" y="810" style="font-family:'Liberation Serif',serif">SemiFL</text><text x="684" y="810" style="font-family:'Liberation Serif',serif">10.0(0.0)</text><text x="728" y="810" style="font-family:'Liberation Serif',serif">38.0(2.7)</text><text x="774" y="810" style="font-family:'Liberation Serif',serif">26.3(2.5)</text><text x="820" y="810" style="font-family:'Liberation Serif',serif">42.7(40.1)</text><text x="866" y="810" font-weight="bold" style="font-family:'Liberation Serif',serif">12.4(1.2)</text><text x="908" y="810" style="font-family:'Liberation Serif',serif">18.9(9.7)</text>
<g font-weight="bold"><text x="639" y="821" font-style="italic" font-weight="normal" style="font-family:'Liberation Serif',serif">(FL)²</text><text x="684" y="821" style="font-family:'Liberation Serif',serif">24.3(4.5)</text><text x="728" y="821" style="font-family:'Liberation Serif',serif">43.5(7.5)</text><text x="774" y="821" style="font-family:'Liberation Serif',serif">31.0(4.2)</text><text x="820" y="821" style="font-family:'Liberation Serif',serif">92.6(0.5)</text><text x="866" y="821" font-weight="normal" style="font-family:'Liberation Serif',serif">12.1(1.1)</text><text x="908" y="821" style="font-family:'Liberation Serif',serif">25.4(1.0)</text></g>
<text x="639" y="838" style="font-family:'Liberation Serif',serif">FedMatch</text><text x="684" y="838" style="font-family:'Liberation Serif',serif">16.2(1.9)</text><text x="728" y="838" style="font-family:'Liberation Serif',serif">25.4(2.8)</text><text x="774" y="838" style="font-family:'Liberation Serif',serif">18.4(4.7)</text><text x="820" y="838" style="font-family:'Liberation Serif',serif">66.2(0.8)</text><text x="866" y="838" style="font-family:'Liberation Serif',serif">6.4(0.6)</text><text x="908" y="838" style="font-family:'Liberation Serif',serif">10.0(1.7)</text>
<text x="639" y="850" style="font-family:'Liberation Serif',serif">FedCon</text><text x="684" y="850" style="font-family:'Liberation Serif',serif">16.7(2.0)</text><text x="728" y="850" style="font-family:'Liberation Serif',serif">23.3(6.2)</text><text x="774" y="850" style="font-family:'Liberation Serif',serif">20.3(1.0)</text><text x="820" y="850" style="font-family:'Liberation Serif',serif">71.6(1.5)</text><text x="866" y="850" style="font-family:'Liberation Serif',serif">5.7(0.6)</text><text x="908" y="850" style="font-family:'Liberation Serif',serif">12.4(1.6)</text>
<text x="639" y="861" style="font-family:'Liberation Serif',serif">SemiFL</text><text x="684" y="861" style="font-family:'Liberation Serif',serif">10.0(0.0)</text><text x="728" y="861" style="font-family:'Liberation Serif',serif">75.3(2.8)</text><text x="774" y="861" style="font-family:'Liberation Serif',serif">53.4(13.3)</text><text x="820" y="861" style="font-family:'Liberation Serif',serif">43.3(41.0)</text><text x="866" y="861" style="font-family:'Liberation Serif',serif">13.9(3.3)</text><text x="908" y="861" style="font-family:'Liberation Serif',serif">27.9(6.1)</text>
<g font-weight="bold"><text x="639" y="873" font-style="italic" font-weight="normal" style="font-family:'Liberation Serif',serif">(FL)²</text><text x="684" y="873" style="font-family:'Liberation Serif',serif">38.9(11.1)</text><text x="728" y="873" style="font-family:'Liberation Serif',serif">81.5(7.4)</text><text x="774" y="873" style="font-family:'Liberation Serif',serif">75.3(2.4)</text><text x="820" y="873" style="font-family:'Liberation Serif',serif">94.6(1.1)</text><text x="866" y="873" style="font-family:'Liberation Serif',serif">14.4(2.3)</text><text x="908" y="873" style="font-family:'Liberation Serif',serif">28.1(2.2)</text></g>
</g>

<!-- small charts -->
<g font-size="11" class="b" text-anchor="middle">
<text x="1024" y="695" textLength="112" lengthAdjust="spacingAndGlyphs">Pseudo label ratio (%)</text><text x="1168" y="695" textLength="130" lengthAdjust="spacingAndGlyphs">Correct/wrong label ratio</text>
<text x="1326" y="695" textLength="87" lengthAdjust="spacingAndGlyphs">Test accuracy (%)</text><text x="1475" y="695" textLength="133" lengthAdjust="spacingAndGlyphs">Pseudo label accuracy (%)</text>
</g>
<g stroke="#333" stroke-width="0.8" fill="none">
<rect x="958" y="701" width="126" height="106"/><rect x="1104" y="701" width="136" height="106"/>
<rect x="1262" y="701" width="132" height="116"/><rect x="1410" y="701" width="136" height="116"/>
</g>
<g font-size="5" fill="#333">
<text x="945" y="704">100</text><text x="948" y="724">80</text><text x="948" y="745">60</text><text x="948" y="766">40</text><text x="948" y="787">20</text>
<text x="1098" y="716">2</text><text x="1094" y="740">1.5</text><text x="1098" y="763">1</text><text x="1094" y="787">0.5</text>
<text x="1250" y="706">100</text><text x="1253" y="727">80</text><text x="1253" y="748">60</text><text x="1253" y="769">40</text><text x="1253" y="790">20</text>
<text x="1398" y="706">100</text><text x="1401" y="727">80</text><text x="1401" y="748">60</text><text x="1401" y="769">40</text><text x="1401" y="790">20</text>
<text x="966" y="815">0  100  200  300  400  500  600  700  800</text><text x="990" y="821">Communication round</text>
<text x="1112" y="815">0  100  200  300  400  500  600  700  800</text><text x="1140" y="821">Communication round</text>
<text x="1270" y="825">0  100  200  300  400  500  600  700  800</text><text x="1300" y="830">Communication round</text>
<text x="1418" y="825">0  100  200  300  400  500  600  700  800</text><text x="1450" y="830">Communication round</text>
</g>
<g fill="none" stroke-width="1.1">
<path d="M960,790 Q975,730 1000,720 T1082,712" stroke="#e600e6"/>
<path d="M960,795 Q978,735 1005,722 T1082,716" stroke="#7b7bff"/>
<path d="M960,800 Q980,745 1010,728 T1082,718" stroke="#2ec4a8"/>
<path d="M960,805 Q985,760 1015,735 T1082,725" stroke="#f0a040"/>
<path d="M960,805 Q990,770 1020,745 T1082,730" stroke="#ff8c42"/>
<path d="M960,805 Q992,775 1025,750 T1082,738" stroke="#1fb8e0"/>
<path d="M1106,805 L1130,770 L1150,740 L1170,715 L1190,718 L1210,712 L1238,714" stroke="#7b7bff"/>
<path d="M1106,805 L1130,775 L1150,748 L1170,725 L1190,728 L1210,722 L1238,728" stroke="#e600e6"/>
<path d="M1106,805 L1130,778 L1150,758 L1170,738 L1190,742 L1210,745 L1238,740" stroke="#2ec4a8"/>
<path d="M1106,805 L1130,785 L1150,770 L1170,762 L1190,765 L1210,770 L1238,778" stroke="#ff8c42"/>
<path d="M1106,805 L1130,790 L1150,780 L1170,770 L1190,768 L1210,772 L1238,775" stroke="#1fb8e0"/>
<path d="M1264,790 Q1285,735 1320,725 T1392,716" stroke="#2ec4a8"/>
<path d="M1264,795 Q1288,745 1325,732 T1392,725" stroke="#7b7bff"/>
<path d="M1264,798 Q1290,755 1330,740 T1392,732" stroke="#e600e6"/>
<path d="M1264,800 Q1292,760 1335,745 T1392,738" stroke="#ff8c42" stroke-dasharray="3,1"/>
<path d="M1412,795 Q1440,735 1470,718 T1544,710" stroke="#2ec4a8"/>
<path d="M1412,798 Q1442,745 1475,725 T1544,716" stroke="#7b7bff"/>
<path d="M1412,800 Q1445,752 1480,732 T1544,720" stroke="#e600e6"/>
<path d="M1412,802 Q1448,760 1485,740 T1544,724" stroke="#ff8c42" stroke-dasharray="3,1"/>
</g>
<rect x="998" y="743" width="80" height="60" fill="#fff" stroke="#999" stroke-width="0.5"/>
<g font-size="6.5"><text x="1002" y="752">(FL)²: CAT+SACR+LSAA</text><text x="1002" y="761">CAT+SACR</text><text x="1002" y="770">SACR</text><text x="1002" y="779">CAT</text><text x="1002" y="788">FixMatch</text><text x="1002" y="797">SemiFL</text></g>
<rect x="1275" y="769" width="118" height="40" fill="#fff" stroke="#999" stroke-width="0.5"/>
<g font-size="6.5"><text x="1279" y="778">CAT</text><text x="1279" y="787">CAT+SACR (All data)</text><text x="1279" y="796" textLength="110" lengthAdjust="spacingAndGlyphs">CAT+SACR (Only correct pseudo-label)</text><text x="1279" y="805" textLength="108" lengthAdjust="spacingAndGlyphs">CAT+SAM (Only correct pseudo-label)</text></g>

<text x="945" y="847" font-size="14" class="b" textLength="571" lengthAdjust="spacingAndGlyphs"><tspan fill="#e00">✓ (FL)² outperforms state-of-the-art baselines</tspan> across all settings, up to 23.0% accuracy</text>
<text x="945" y="876" font-size="14" class="b" textLength="596" lengthAdjust="spacingAndGlyphs">✓ Closes gap between SSL and FSSL, especially when <tspan fill="#e00">labels are scarce</tspan> (&lt; 5 labels per class)</text>
</svg>
</body></html>
